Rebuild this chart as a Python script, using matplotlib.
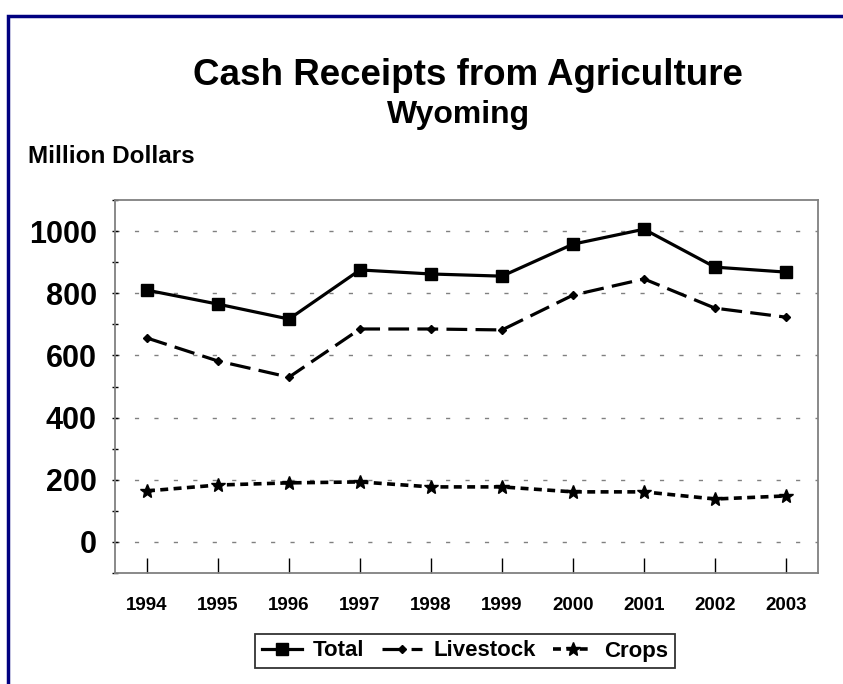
import matplotlib.pyplot as plt
from matplotlib.patches import Rectangle
from matplotlib.ticker import MultipleLocator

plt.rcParams['font.family'] = ['Liberation Sans', 'DejaVu Sans']
plt.rcParams['font.weight'] = 'bold'

years = [1994, 1995, 1996, 1997, 1998, 1999, 2000, 2001, 2002, 2003]
total = [810, 765, 717, 875, 862, 855, 958, 1006, 884, 868]
livestock = [656, 582, 530, 685, 685, 682, 794, 846, 752, 723]
crops = [164, 183, 190, 193, 177, 177, 161, 161, 138, 148]

fig = plt.figure(figsize=(8.43, 6.84), dpi=100)
ax = fig.add_axes([115/843, 1-573/684, (818-115)/843, (573-200)/684])

ax.plot(years, total, color='black', lw=2.3, marker='s', markersize=9, label='Total')
ax.plot(years, livestock, color='black', lw=2.3, linestyle=(0, (6.5, 2.6)),
        marker='D', markersize=4.5, label='Livestock')
ax.plot(years, crops, color='black', lw=2.6, linestyle=(0, (2.2, 1.5)),
        marker='*', markersize=10, label='Crops')

ax.set_xlim(1993.55, 2003.45)
ax.set_ylim(-100, 1100)
ax.set_xticks(years)
ax.set_yticks(range(0, 1001, 200))
ax.yaxis.set_minor_locator(MultipleLocator(100))
ax.yaxis.grid(True, which='major', color='#808080', lw=1, linestyle=(0, (3, 11)))

for s in ax.spines.values():
    s.set_color('#808080')
    s.set_linewidth(1.3)

ax.tick_params(axis='x', direction='in', length=11, width=1, color='black',
               pad=17, labelsize=13.5)
ax.tick_params(axis='y', which='both', direction='inout', length=4, width=1,
               color='black', pad=11, labelsize=22)

fig.text(468/843, 1-85/684, 'Cash Receipts from Agriculture', ha='center',
         va='baseline', fontsize=26.5, fontweight='bold')
fig.text(459/843, 1-123/684, 'Wyoming', ha='center', va='baseline',
         fontsize=23, fontweight='bold')
fig.text(28/843, 1-163/684, 'Million Dollars', ha='left', va='baseline',
         fontsize=17.5, fontweight='bold')

leg = fig.legend(loc='center', bbox_to_anchor=(465/843, 1-651/684), ncol=3,
                 frameon=True, fancybox=False, edgecolor='black', fontsize=16,
                 handlelength=1.8, handletextpad=0.5, columnspacing=0.8,
                 borderpad=0.3)
leg.get_frame().set_linewidth(1.3)

fig.add_artist(Rectangle((8/843, -0.05), 1.0, 1-16/684+0.05,
                         transform=fig.transFigure, fill=False,
                         edgecolor='#000080', lw=2.5, clip_on=False))

fig.savefig('out.png', dpi=100)
